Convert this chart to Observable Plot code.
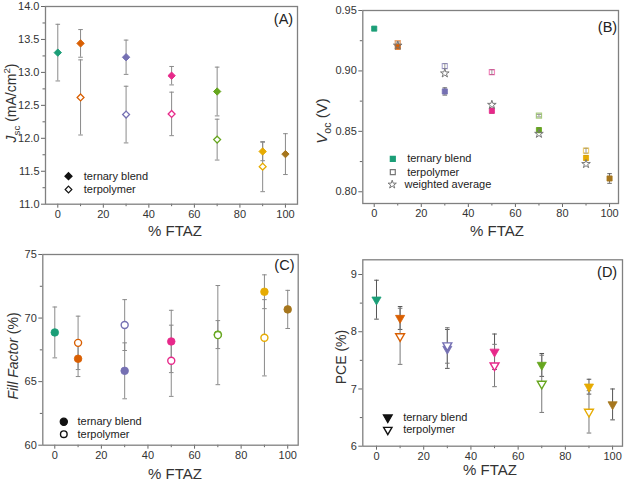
<!DOCTYPE html>
<html>
<head>
<meta charset="utf-8">
<script src="https://cdn.jsdelivr.net/npm/d3@7"></script>
<script src="https://cdn.jsdelivr.net/npm/@observablehq/plot@0.6"></script>
<style>
  body { margin: 0; background: #fff; }
  #fig { position: relative; width: 626px; height: 480px; overflow: hidden;
         font-family: "Liberation Sans", Arial, Helvetica, sans-serif; color: #333; background: #fff; }
  #fig svg { position: absolute; overflow: visible; }
  .lab { position: absolute; white-space: nowrap; font-size: 14px; line-height: 1;
         transform: translate(-50%, -50%); color: #333; }
  .lab.rot { transform: translate(-50%, -50%) rotate(-90deg); }
  .lab sub, .lab sup { font-size: 70%; line-height: 0; }
</style>
</head>
<body>
<div id="fig"></div>
<script>
// FTAZ content (%) of each device and the colour used for it
const ftaz = [0, 10, 30, 50, 70, 90, 100];
const terpFtaz = [10, 30, 50, 70, 90];
const palette = ["#1b9e77", "#d95f02", "#7570b3", "#e7298a", "#66a61e", "#e6ab02", "#a6761d"];

// (A) short-circuit current density, mA/cm2
const jscBlend    = [13.30, 13.44, 13.23, 12.95, 12.71, 11.80, 11.76];
const jscBlendErr = [0.43, 0.21, 0.26, 0.14, 0.37, 0.14, 0.31];
const jscTerp     = [12.62, 12.36, 12.37, 11.98, 11.57];
const jscTerpErr  = [0.57, 0.43, 0.33, 0.31, 0.38];

// (B) open-circuit voltage, V
const vocBlend    = [0.935, 0.920, 0.883, 0.867, 0.851, 0.828, 0.811];
const vocBlendErr = [0.001, 0.001, 0.003, 0.002, 0.002, 0.002, 0.004];
const vocTerp     = [0.923, 0.904, 0.899, 0.863, 0.834];
const vocTerpErr  = [0.001, 0.002, 0.002, 0.001, 0.002];
const vocAverage  = [0.921, 0.898, 0.872, 0.848, 0.823];

// (C) fill factor, %
const ffBlend    = [68.87, 66.80, 65.85, 68.16, 68.70, 72.07, 70.68];
const ffBlendErr = [2.00, 1.40, 2.20, 2.45, 1.10, 1.33, 1.50];
const ffTerp     = [68.05, 69.45, 66.64, 68.66, 68.45];
const ffTerpErr  = [2.10, 2.00, 2.80, 3.90, 3.00];

// (D) power conversion efficiency, %
const pceBlend    = [8.56, 8.24, 7.70, 7.65, 7.42, 7.04, 6.73];
const pceBlendErr = [0.34, 0.20, 0.34, 0.31, 0.20, 0.13, 0.27];
const pceTerp     = [7.92, 7.76, 7.41, 7.09, 6.60];
const pceTerpErr  = [0.49, 0.31, 0.37, 0.50, 0.37];

const xMajor = [0, 20, 40, 60, 80, 100];
const xMinor = [10, 30, 50, 70, 90];

const rows = (xs, vals, errs) =>
  xs.map((x, i) => ({x, v: vals[i], lo: vals[i] - (errs ? errs[i] : 0), hi: vals[i] + (errs ? errs[i] : 0)}));

// horizontal cap for error bars
const capSymbol = {
  draw(context, size) {
    const h = Math.sqrt(size / Math.PI);
    context.moveTo(-h, 0);
    context.lineTo(h, 0);
  }
};

const fontFamily = '"Liberation Sans", Arial, Helvetica, sans-serif';

function errorMarks(data, color) {
  return [
    Plot.ruleX(data, {x: "x", y1: "lo", y2: "hi", stroke: color, strokeWidth: 1}),
    Plot.dot(data, {x: "x", y: "lo", symbol: capSymbol, r: 2.3, stroke: color, fill: "none", strokeWidth: 1}),
    Plot.dot(data, {x: "x", y: "hi", symbol: capSymbol, r: 2.3, stroke: color, fill: "none", strokeWidth: 1})
  ];
}

function legendMarks(items) {
  const out = [];
  for (const it of items) {
    out.push(Plot.dot([0], {frameAnchor: "top-left", dx: it.dx, dy: it.dy, symbol: it.symbol, r: it.r,
      rotate: it.rotate || 0, fill: it.fill, stroke: it.stroke, strokeWidth: it.strokeWidth || 1.2}));
    out.push(Plot.text([it.label], {frameAnchor: "top-left", dx: it.tdx, dy: it.dy, textAnchor: "start",
      lineAnchor: "middle", fontSize: 11, fill: "#222"}));
  }
  return out;
}

function panel(cfg) {
  const {box, frame} = cfg;
  const svg = Plot.plot({
    width: box.w, height: box.h,
    marginLeft: frame.l - box.x, marginTop: frame.t - box.y,
    marginRight: box.x + box.w - frame.r, marginBottom: box.y + box.h - frame.b,
    x: {domain: cfg.xDomain},
    y: {domain: cfg.yDomain},
    color: {type: "ordinal", domain: ftaz, range: palette},
    style: {fontFamily, fontSize: "11px", color: "#333", background: "transparent", overflow: "visible"},
    marks: [
      Plot.axisX(xMajor, {tickSize: 4, tickPadding: 2, label: null, stroke: "#666", fill: "#333", fontSize: 11}),
      Plot.axisX(xMinor, {tickSize: 2.5, text: null, label: null, stroke: "#666"}),
      Plot.axisY(cfg.yTicks, {tickSize: 4, tickPadding: 2, tickFormat: cfg.yFormat, label: null, stroke: "#666", fill: "#333", fontSize: 11}),
      Plot.axisY(cfg.yMinor, {tickSize: 2.5, text: null, label: null, stroke: "#666"}),
      ...cfg.marks,
      Plot.frame({stroke: "#808080", strokeWidth: 1.3}),
      ...legendMarks(cfg.legend),
      Plot.text([cfg.letter.text], {frameAnchor: "top-right", dx: cfg.letter.dx, dy: cfg.letter.dy,
        textAnchor: "end", lineAnchor: "middle", fontSize: 14.5, fill: "#222"})
    ]
  });
  svg.style.left = box.x + "px";
  svg.style.top = box.y + "px";
  return svg;
}

const fig = document.getElementById("fig");

// (A) Jsc
{
  const blend = rows(ftaz, jscBlend, jscBlendErr);
  const terp = rows(terpFtaz, jscTerp, jscTerpErr);
  fig.appendChild(panel({
    box: {x: 0, y: 0, w: 313, h: 240},
    frame: {l: 45, t: 6, r: 297, b: 203.7},
    xDomain: [-5.4, 105.3], yDomain: [11, 14],
    yTicks: d3.range(11, 14.01, 0.5), yMinor: d3.range(11.25, 14, 0.5), yFormat: d3.format(".1f"),
    marks: [
      ...errorMarks(blend, "#8a8a8a"),
      ...errorMarks(terp, "#8a8a8a"),
      Plot.dot(blend, {x: "x", y: "v", symbol: "diamond2", r: 3.3, fill: "x", stroke: "x", strokeWidth: 1}),
      Plot.dot(terp, {x: "x", y: "v", symbol: "diamond2", r: 3.1, fill: "white", stroke: "x", strokeWidth: 1.3})
    ],
    legend: [
      {dx: 23, dy: 169.7, tdx: 38.3, symbol: "diamond2", r: 3.2, fill: "#111", stroke: "#111", label: "ternary blend"},
      {dx: 23, dy: 183, tdx: 38.3, symbol: "diamond2", r: 3, fill: "white", stroke: "#111", label: "terpolymer"}
    ],
    letter: {text: "(A)", dx: -4.3, dy: 13}
  }));
}

// (B) Voc
{
  const blend = rows(ftaz, vocBlend, vocBlendErr);
  const terp = rows(terpFtaz, vocTerp, vocTerpErr);
  const avg = rows(terpFtaz, vocAverage);
  fig.appendChild(panel({
    box: {x: 313, y: 0, w: 313, h: 240},
    frame: {l: 362.3, t: 10, r: 618, b: 203},
    xDomain: [-4.85, 103.8], yDomain: [0.7903, 0.95],
    yTicks: [0.80, 0.85, 0.90, 0.95], yMinor: [0.825, 0.875, 0.925], yFormat: d3.format(".2f"),
    marks: [
      ...errorMarks(blend, "#666"),
      ...errorMarks(terp, "#999"),
      Plot.dot(terp, {x: "x", y: "v", symbol: "square", r: 2.9, fill: "none", stroke: "x", strokeOpacity: 0.55, strokeWidth: 1.2}),
      Plot.dot(blend, {x: "x", y: "v", symbol: "square", r: 2.9, fill: "x", stroke: "x", strokeWidth: 0.8}),
      Plot.dot(avg, {x: "x", y: "v", symbol: "star", r: 2.7, fill: "none", stroke: "#777", strokeWidth: 1})
    ],
    legend: [
      {dx: 30, dy: 148.3, tdx: 44.4, symbol: "square", r: 2.8, fill: "#1b9e77", stroke: "#1b9e77", label: "ternary blend"},
      {dx: 30, dy: 161.7, tdx: 44.4, symbol: "square", r: 2.8, fill: "none", stroke: "#777", label: "terpolymer"},
      {dx: 29.4, dy: 174, tdx: 41.7, symbol: "star", r: 2.6, fill: "none", stroke: "#777", strokeWidth: 1, label: "weighted average"}
    ],
    letter: {text: "(B)", dx: -1.3, dy: 16.7}
  }));
}

// (C) Fill factor
{
  const blend = rows(ftaz, ffBlend, ffBlendErr);
  const terp = rows(terpFtaz, ffTerp, ffTerpErr);
  fig.appendChild(panel({
    box: {x: 0, y: 240, w: 313, h: 240},
    frame: {l: 42.3, t: 254, r: 297.7, b: 444.7},
    xDomain: [-5.15, 104.5], yDomain: [60, 75],
    yTicks: [60, 65, 70, 75], yMinor: [62.5, 67.5, 72.5], yFormat: d3.format("d"),
    marks: [
      ...errorMarks(blend, "#8a8a8a"),
      ...errorMarks(terp, "#8a8a8a"),
      Plot.dot(blend, {x: "x", y: "v", symbol: "circle", r: 3.8, fill: "x", stroke: "x", strokeWidth: 0.8}),
      Plot.dot(terp, {x: "x", y: "v", symbol: "circle", r: 3.5, fill: "white", stroke: "x", strokeWidth: 1.4})
    ],
    legend: [
      {dx: 21, dy: 167.3, tdx: 34.7, symbol: "circle", r: 3.6, fill: "#111", stroke: "#111", label: "ternary blend"},
      {dx: 21, dy: 179.7, tdx: 34.7, symbol: "circle", r: 3.3, fill: "white", stroke: "#111", strokeWidth: 1.4, label: "terpolymer"}
    ],
    letter: {text: "(C)", dx: -3.7, dy: 11.3}
  }));
}

// (D) PCE
{
  const blend = rows(ftaz, pceBlend, pceBlendErr);
  const terp = rows(terpFtaz, pceTerp, pceTerpErr);
  fig.appendChild(panel({
    box: {x: 313, y: 240, w: 313, h: 240},
    frame: {l: 362.3, t: 259.3, r: 622, b: 445.7},
    xDomain: [-5.8, 104.2], yDomain: [6, 9.257],
    yTicks: [6, 7, 8, 9], yMinor: [6.5, 7.5, 8.5], yFormat: d3.format("d"),
    marks: [
      ...errorMarks(blend, "#555"),
      ...errorMarks(terp, "#777"),
      Plot.dot(blend, {x: "x", y: "v", symbol: "triangle", rotate: 180, r: 3.4, fill: "x", stroke: "x", strokeWidth: 0.8}),
      Plot.dot(terp, {x: "x", y: "v", symbol: "triangle", rotate: 180, r: 3.3, fill: "white", stroke: "x", strokeWidth: 1.4})
    ],
    legend: [
      {dx: 25, dy: 157.7, tdx: 40.4, symbol: "triangle", rotate: 180, r: 3.3, fill: "#111", stroke: "#111", label: "ternary blend"},
      {dx: 25, dy: 170, tdx: 40.4, symbol: "triangle", rotate: 180, r: 3.1, fill: "white", stroke: "#111", strokeWidth: 1.4, label: "terpolymer"}
    ],
    letter: {text: "(D)", dx: -5.3, dy: 13}
  }));
}

// axis titles
const titles = [
  {html: "<i>J</i><sub>sc</sub> (mA/cm<sup>2</sup>)", x: 11, y: 103, rot: true},
  {html: "% FTAZ", x: 175, y: 230},
  {html: "<i>V</i><sub>oc</sub> (V)", x: 321, y: 121, rot: true, size: 15},
  {html: "% FTAZ", x: 497, y: 230},
  {html: "<i>Fill Factor</i> (%)", x: 13, y: 356, rot: true},
  {html: "% FTAZ", x: 175, y: 473},
  {html: "PCE (%)", x: 341, y: 357, rot: true},
  {html: "% FTAZ", x: 490, y: 469}
];
for (const t of titles) {
  const div = document.createElement("div");
  div.className = "lab" + (t.rot ? " rot" : "");
  div.innerHTML = t.html;
  div.style.left = t.x + "px";
  div.style.top = t.y + "px";
  div.style.fontSize = (t.size || (t.rot ? 14 : 15)) + "px";
  fig.appendChild(div);
}
</script>
</body>
</html>
